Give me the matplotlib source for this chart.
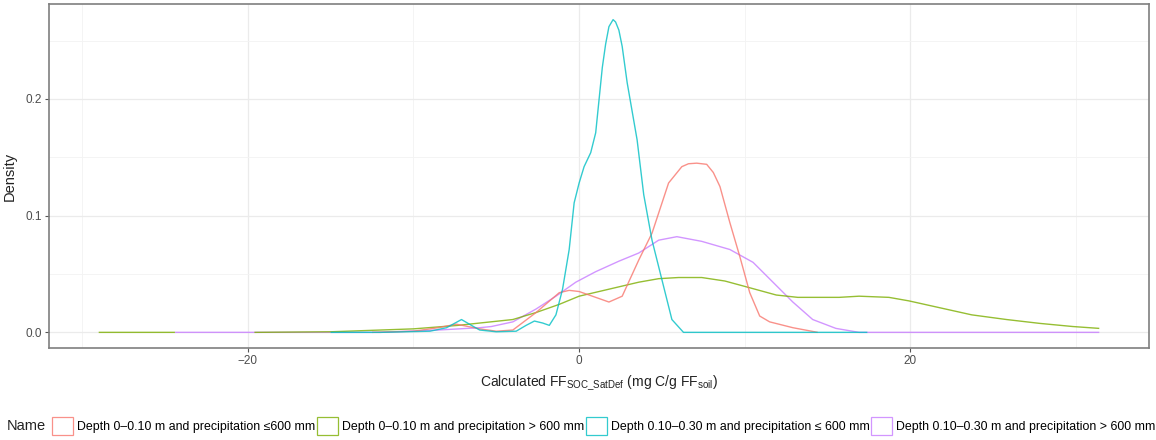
import numpy as np
import matplotlib
matplotlib.use("Agg")
import matplotlib.pyplot as plt
from matplotlib.patches import Patch
from matplotlib.ticker import MultipleLocator

plt.rcParams['font.family'] = ['Liberation Sans', 'DejaVu Sans']
plt.rcParams['mathtext.fontset'] = 'custom'
plt.rcParams['mathtext.rm'] = 'Liberation Sans'

# ---- data ----
labels = [
    "Depth 0\u20130.10 m and precipitation \u2264600 mm",
    "Depth 0\u20130.10 m and precipitation > 600 mm",
    "Depth 0.10\u20130.30 m and precipitation \u2264 600 mm",
    "Depth 0.10\u20130.30 m and precipitation > 600 mm",
]
colors = ["#F8766D", "#7CAE00", "#00BFC4", "#C77CFF"]

red_x = [-12.5, -10, -8.5, -7.4, -6, -5, -4, -2.6, -1.2, -0.6, 0, 0.8, 1.8, 2.6, 3.6,
         4.4, 5.4, 6.2, 6.6, 7.1, 7.7, 8.1, 8.5, 9.1, 9.7, 10.3, 10.9, 11.5, 12.9, 14.4]
red_y = [0, 0.001, 0.004, 0.007, 0.003, 0.001, 0.002, 0.017, 0.034, 0.036, 0.035, 0.031,
         0.026, 0.031, 0.062, 0.085, 0.128, 0.142, 0.1445, 0.145, 0.144, 0.137, 0.125,
         0.094, 0.065, 0.034, 0.014, 0.009, 0.004, 0.0]

green_x = [-29, -24.4, np.nan, -19.6, -15, -10, -7.3, -6, -4, -2.6, -1.2, 0, 1.2, 2.4, 3.6,
           4.8, 6, 7.4, 8.8, 10.1, 11.9, 13.2, 14.5, 15.7, 16.9, 18.7, 19.9, 21.8, 23.7,
           25.8, 27.8, 29.8, 31.4]
green_y = [0, 0, np.nan, 0, 0.0005, 0.003, 0.006, 0.008, 0.011, 0.017, 0.024, 0.031, 0.035,
           0.039, 0.043, 0.046, 0.047, 0.047, 0.044, 0.039, 0.032, 0.030, 0.030, 0.030,
           0.031, 0.030, 0.027, 0.021, 0.015, 0.011, 0.0077, 0.005, 0.0034]

cyan_x = [-15, -12, -9, -8, -7.1, -6.5, -6.0, -5, -3.8, -3.2, -2.7, -2.2, -1.8, -1.4, -1.0,
          -0.6, -0.3, 0, 0.3, 0.7, 1.0, 1.4, 1.6, 1.8, 2.05, 2.2, 2.4, 2.6, 2.9, 3.5, 3.9,
          4.4, 5.0, 5.6, 6.3, 17.4]
cyan_y = [0, 0, 0.001, 0.004, 0.011, 0.006, 0.002, 0.0005, 0.001, 0.006, 0.0097, 0.008,
          0.006, 0.015, 0.037, 0.071, 0.111, 0.128, 0.142, 0.154, 0.171, 0.227, 0.247,
          0.262, 0.268, 0.266, 0.259, 0.245, 0.214, 0.165, 0.118, 0.079, 0.045, 0.011,
          0.0, 0.0]

purple_x = [-24.4, -12, -8.5, -6, -5.3, -4, -2.6, -1.4, -0.2, 1.0, 2.4, 3.6, 4.8, 5.9, 7.4,
            9.1, 10.5, 11.7, 12.9, 14.1, 15.5, 16.9, 31.4]
purple_y = [0, 0, 0.002, 0.004, 0.005, 0.009, 0.020, 0.031, 0.043, 0.052, 0.061, 0.068,
            0.079, 0.082, 0.078, 0.071, 0.060, 0.043, 0.026, 0.011, 0.0034, 0.0, 0.0]

xticks = [-20, 0, 20]
xtick_labels = ["\u221220", "0", "20"]
yticks = [0.0, 0.1, 0.2]
ytick_labels = ["0.0", "0.1", "0.2"]

# ---- figure ----
fig = plt.figure(figsize=(11.56, 4.40), dpi=100)
ax = fig.add_axes([49/1156, 1 - 348/440, (1149-49)/1156, (348-4)/440])

series = [(purple_x, purple_y, 3), (green_x, green_y, 1), (red_x, red_y, 0), (cyan_x, cyan_y, 2)]
for xs, ys, ci in series:
    ax.plot(xs, ys, color=colors[ci], lw=1.0, alpha=0.8, zorder=3, solid_capstyle='butt',
            solid_joinstyle='round')

ax.set_xlim(-32.0, 34.4)
ax.set_ylim(-0.0134, 0.2814)
ax.set_xticks(xticks)
ax.set_xticklabels(xtick_labels)
ax.set_yticks(yticks)
ax.set_yticklabels(ytick_labels)
ax.xaxis.set_minor_locator(MultipleLocator(10))
ax.yaxis.set_minor_locator(MultipleLocator(0.05))
ax.grid(which='major', color='#EBEBEB', lw=0.9, zorder=0)
ax.grid(which='minor', color='#F3F3F3', lw=0.6, zorder=0)
ax.set_axisbelow(True)
ax.tick_params(which='major', length=3, width=0.8, color='#555555', labelsize=8.5,
               labelcolor='#4D4D4D', pad=2)
ax.tick_params(which='minor', length=0)
for sp in ax.spines.values():
    sp.set_color('#7F7F7F')
    sp.set_linewidth(1.2)

ax.set_ylabel("Density", fontsize=10.5, color='#222222', labelpad=6)
ax.set_xlabel(r"Calculated FF$_{\mathregular{SOC\_SatDef}}$ (mg C/g FF$_{\mathregular{soil}}$)",
              fontsize=10, color='#222222', labelpad=5)

handles = [Patch(facecolor='white', edgecolor=c, lw=0.9, alpha=0.8) for c in colors]
fig.text(7/1156, 1 - 426/440, "Name", fontsize=10.5, va='center', ha='left', color='#222222')
leg = fig.legend(handles, labels, loc='center left', bbox_to_anchor=(52/1156, 1 - 426/440),
                 ncol=4, frameon=False, fontsize=8.9, handlelength=1.7, handleheight=1.75,
                 handletextpad=0.35, columnspacing=0.1, borderpad=0, borderaxespad=0)

fig.savefig("out.png", dpi=100)
